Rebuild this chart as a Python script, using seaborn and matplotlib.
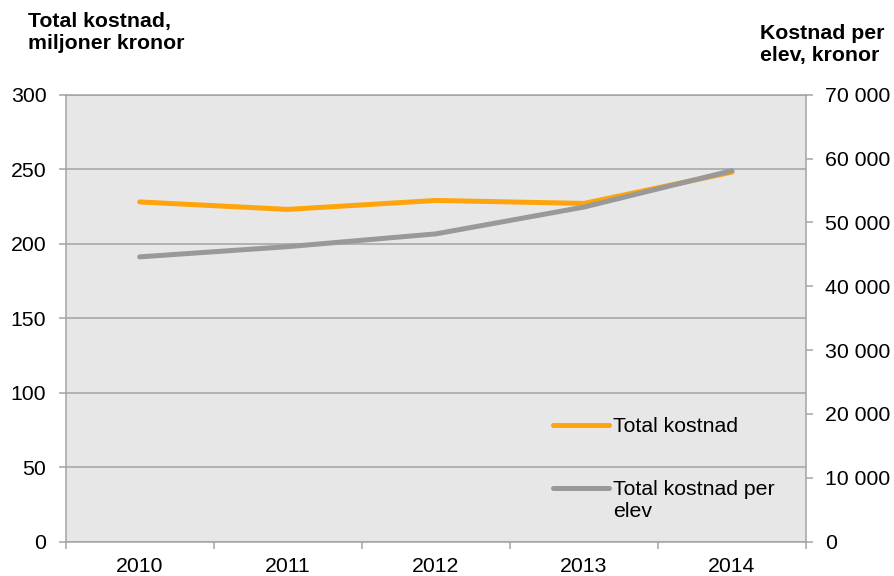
import pandas as pd
import matplotlib.pyplot as plt
import seaborn as sns
from matplotlib.ticker import FuncFormatter

# data
years = ["2010", "2011", "2012", "2013", "2014"]
total_cost = [228, 223, 229, 227, 248]                    # miljoner kronor (left axis)
cost_per_student = [44600, 46200, 48200, 52400, 58100]    # kronor (right axis)

left_ticks = [0, 50, 100, 150, 200, 250, 300]
right_ticks = [0, 10000, 20000, 30000, 40000, 50000, 60000, 70000]
labels = ["Total kostnad", "Total kostnad per\nelev"]

sns.set_theme(style="white")
plt.rcParams["font.family"] = ["Liberation Sans", "DejaVu Sans"]
plt.rcParams["text.color"] = "black"

orange = "#FFA40A"
grey = "#999999"
grid_col = "#A3A3A3"
bg = "#E7E7E7"
fs = 15.3

df = pd.DataFrame({"year": years, "total": total_cost, "per_elev": cost_per_student})

fig = plt.figure(figsize=(8.94, 5.76), dpi=100)
ax = fig.add_axes([0.0735, 0.0595, 0.8281, 0.7762])
ax.set_facecolor(bg)
ax2 = ax.twinx()

sns.lineplot(data=df, x="year", y="total", ax=ax, color=orange, lw=3.6, legend=False)
sns.lineplot(data=df, x="year", y="per_elev", ax=ax2, color=grey, lw=3.6, legend=False)

# axes limits and ticks
ax.set_xlim(-0.5, 4.5)
ax.set_ylim(0, 300)
ax2.set_ylim(0, 70000)
ax.set_yticks(left_ticks)
ax2.set_yticks(right_ticks)
ax2.yaxis.set_major_formatter(FuncFormatter(lambda v, p: f"{v:,.0f}".replace(",", " ")))

ax.set_xticks(range(len(years)))
ax.set_xticklabels(years)
ax.set_xticks([i - 0.5 for i in range(len(years) + 1)], minor=True)
ax.set_xlabel("")
ax.set_ylabel("")
ax2.set_ylabel("")

ax.tick_params(axis="x", which="major", bottom=True, length=0, pad=11, labelsize=fs, labelcolor="black")
ax.tick_params(axis="x", which="minor", bottom=True, length=5, width=1.1, color=grid_col)
ax.tick_params(axis="y", left=True, length=5, width=1.1, color=grid_col, pad=9,
               labelsize=fs, labelcolor="black")
ax2.tick_params(axis="y", right=True, length=5, width=1.1, color=grid_col, pad=9,
                labelsize=fs, labelcolor="black")

ax.yaxis.grid(True, color=grid_col, lw=1.1)
ax.set_axisbelow(True)

for s in ax.spines.values():
    s.set_color(grid_col)
    s.set_linewidth(1.1)
for s in ax2.spines.values():
    s.set_visible(False)

# legend without frame, handle of the two-line entry aligned with its first line
handles = [ax.lines[0], ax2.lines[0]]
leg = ax2.legend(handles, labels, loc="upper left", bbox_to_anchor=(0.658, 0.279),
                 frameon=False, fontsize=fs, handlelength=2.65, handletextpad=0.2,
                 labelspacing=2.08, borderpad=0, borderaxespad=0)
for t in leg.get_texts():
    t.set_color("black")
h2 = leg.legend_handles[1]
h2.set_ydata([y + 9.4 for y in h2.get_ydata()])

# axis titles
fig.text(28 / 894, 1 - 12 / 576, "Total kostnad,\nmiljoner kronor", ha="left", va="top",
         fontsize=fs, fontweight="bold", linespacing=1.22, color="black")
fig.text(760 / 894, 1 - 24 / 576, "Kostnad per\nelev, kronor", ha="left", va="top",
         fontsize=fs, fontweight="bold", linespacing=1.22, color="black")

fig.savefig("out.png", dpi=100)
